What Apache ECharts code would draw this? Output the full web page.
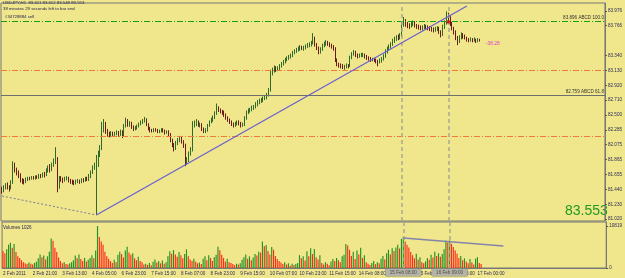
<!DOCTYPE html>
<html>
<head>
<meta charset="utf-8">
<script src="https://cdn.jsdelivr.net/npm/echarts@6/dist/echarts.min.js"></script>
<style>
html, body { margin: 0; padding: 0; background: #f0e68c; }
#chart { width: 625px; height: 278px; }
</style>
</head>
<body>
<div id="chart"></div>
<script>
// USDJPY H1 bars: [open, close, low, high]
const candles = [
  [81.45,81.43,81.38,81.48],[81.43,81.47,81.40,81.50],[81.47,81.50,81.44,81.53],[81.50,81.48,81.44,81.54],
  [81.48,81.46,81.41,81.50],[81.46,81.53,81.44,81.57],[81.53,81.80,81.52,81.84],[81.80,81.72,81.68,81.82],
  [81.72,81.68,81.64,81.75],[81.68,81.65,81.60,81.71],[81.65,81.57,81.54,81.67],[81.57,81.56,81.52,81.60],
  [81.56,81.55,81.51,81.59],[81.55,81.58,81.53,81.61],[81.58,81.60,81.56,81.62],[81.60,81.59,81.57,81.62],
  [81.59,81.61,81.58,81.63],[81.61,81.60,81.58,81.63],[81.60,81.62,81.58,81.64],[81.62,81.61,81.59,81.64],
  [81.61,81.63,81.59,81.66],[81.63,81.62,81.60,81.66],[81.62,81.66,81.61,81.68],[81.66,81.64,81.61,81.69],
  [81.64,81.71,81.63,81.74],[81.71,81.75,81.68,81.78],[81.75,81.72,81.68,81.80],[81.72,81.79,81.70,81.82],
  [81.79,81.84,81.76,81.88],[81.84,81.88,81.80,82.04],[81.88,81.47,81.40,81.90],[81.47,81.60,81.45,81.63],
  [81.60,81.58,81.55,81.63],[81.58,81.57,81.53,81.61],[81.57,81.59,81.55,81.62],[81.59,81.60,81.57,81.63],
  [81.60,81.57,81.54,81.62],[81.57,81.55,81.52,81.59],[81.55,81.54,81.51,81.58],[81.54,81.53,81.50,81.57],
  [81.53,81.55,81.51,81.58],[81.55,81.56,81.53,81.59],[81.56,81.55,81.52,81.58],[81.55,81.58,81.53,81.60],
  [81.58,81.57,81.54,81.60],[81.57,81.59,81.55,81.62],[81.59,81.58,81.56,81.62],[81.58,81.63,81.56,81.66],
  [81.63,81.68,81.60,81.71],[81.68,81.75,81.66,81.78],[81.75,81.79,81.72,81.82],[81.79,81.85,81.08,81.93],
  [81.85,81.95,81.76,81.99],[81.95,82.03,81.90,82.07],[82.03,82.34,82.00,82.40],[82.34,82.38,82.25,82.44],
  [82.38,82.27,82.23,82.40],[82.27,82.23,82.19,82.30],[82.23,82.21,82.18,82.26],[82.21,82.24,82.19,82.27],
  [82.24,82.22,82.19,82.26],[82.22,82.23,82.20,82.26],[82.23,82.25,82.21,82.28],[82.25,82.22,82.19,82.27],
  [82.22,82.26,82.20,82.29],[82.26,82.20,82.17,82.28],[82.20,82.34,82.19,82.37],[82.34,82.42,82.32,82.46],
  [82.42,82.36,82.33,82.44],[82.36,82.38,82.33,82.41],[82.38,82.33,82.30,82.40],[82.33,82.30,82.27,82.35],
  [82.30,82.31,82.28,82.34],[82.31,82.34,82.29,82.36],[82.34,82.37,82.32,82.39],[82.37,82.40,82.35,82.42],
  [82.40,82.42,82.37,82.44],[82.42,82.44,82.39,82.47],[82.44,82.36,82.34,82.45],[82.36,82.31,82.28,82.38],
  [82.31,82.28,82.25,82.33],[82.28,82.27,82.25,82.30],[82.27,82.29,82.25,82.31],[82.29,82.28,82.26,82.31],
  [82.28,82.26,82.24,82.30],[82.26,82.27,82.24,82.29],[82.27,82.29,82.25,82.31],[82.29,82.27,82.25,82.31],
  [82.27,82.25,82.22,82.29],[82.25,82.26,82.23,82.28],[82.26,82.22,82.19,82.28],[82.22,82.14,82.11,82.24],
  [82.14,82.08,82.04,82.16],[82.08,82.02,81.98,82.10],[82.02,82.10,82.00,82.13],[82.10,82.14,82.07,82.17],
  [82.14,82.18,82.11,82.20],[82.18,82.12,82.09,82.20],[82.12,82.07,82.03,82.14],[82.07,81.82,81.77,82.09],
  [81.82,81.86,81.79,81.90],[81.86,81.95,81.83,81.98],[81.95,82.00,81.92,82.04],[82.00,82.36,81.98,82.41],
  [82.36,82.38,82.32,82.42],[82.38,82.40,82.34,82.44],[82.40,82.36,82.33,82.42],[82.36,82.36,82.32,82.39],
  [82.36,82.30,82.27,82.38],[82.30,82.27,82.24,82.32],[82.27,82.28,82.24,82.31],[82.28,82.35,82.26,82.37],
  [82.35,82.40,82.33,82.42],[82.40,82.43,82.38,82.46],[82.43,82.46,82.40,82.49],[82.46,82.52,82.44,82.55],
  [82.52,82.60,82.50,82.66],[82.60,82.57,82.54,82.62],[82.57,82.55,82.52,82.59],[82.55,82.54,82.50,82.57],
  [82.54,82.50,82.47,82.56],[82.50,82.46,82.43,82.52],[82.46,82.43,82.40,82.48],[82.43,82.40,82.37,82.45],
  [82.40,82.37,82.34,82.42],[82.37,82.35,82.32,82.39],[82.35,82.37,82.33,82.40],[82.37,82.40,82.35,82.42],
  [82.40,82.38,82.35,82.42],[82.38,82.35,82.32,82.40],[82.35,82.36,82.33,82.39],[82.36,82.45,82.34,82.48],
  [82.45,82.54,82.43,82.56],[82.54,82.56,82.51,82.59],[82.56,82.57,82.53,82.60],[82.57,82.60,82.55,82.63],
  [82.60,82.61,82.57,82.64],[82.61,82.65,82.59,82.68],[82.65,82.68,82.62,82.71],[82.68,82.70,82.65,82.73],
  [82.70,82.71,82.67,82.74],[82.71,82.73,82.68,82.76],[82.73,82.75,82.71,82.78],[82.75,82.78,82.72,82.81],
  [82.78,82.85,82.76,82.88],[82.85,83.10,82.83,83.14],[83.10,83.13,83.06,83.17],[83.13,83.17,83.10,83.20],
  [83.17,83.14,83.11,83.19],[83.14,83.16,83.12,83.19],[83.16,83.19,83.13,83.22],[83.19,83.22,83.17,83.25],
  [83.22,83.25,83.20,83.28],[83.25,83.28,83.23,83.31],[83.28,83.30,83.26,83.33],[83.30,83.32,83.28,83.35],
  [83.32,83.34,83.30,83.37],[83.34,83.38,83.32,83.41],[83.38,83.40,83.36,83.43],[83.40,83.42,83.38,83.45],
  [83.42,83.44,83.40,83.47],[83.44,83.46,83.41,83.49],[83.46,83.45,83.42,83.48],[83.45,83.45,83.41,83.48],
  [83.45,83.47,83.43,83.50],[83.47,83.49,83.45,83.52],[83.49,83.50,83.46,83.53],[83.50,83.52,83.47,83.55],
  [83.52,83.59,83.50,83.66],[83.59,83.50,83.47,83.61],[83.50,83.45,83.42,83.52],[83.45,83.39,83.36,83.47],
  [83.39,83.43,83.37,83.46],[83.43,83.48,83.41,83.51],[83.48,83.51,83.46,83.54],[83.51,83.53,83.48,83.56],
  [83.53,83.51,83.48,83.55],[83.51,83.49,83.46,83.53],[83.49,83.47,83.44,83.51],[83.47,83.45,83.41,83.49],
  [83.45,83.28,83.25,83.46],[83.28,83.22,83.19,83.30],[83.22,83.20,83.17,83.24],[83.20,83.19,83.16,83.23],
  [83.19,83.18,83.15,83.22],[83.18,83.18,83.14,83.21],[83.18,83.20,83.16,83.23],[83.20,83.19,83.16,83.22],
  [83.19,83.31,83.18,83.34],[83.31,83.36,83.29,83.39],[83.36,83.39,83.34,83.42],[83.39,83.35,83.32,83.41],
  [83.35,83.33,83.30,83.37],[83.33,83.34,83.31,83.37],[83.34,83.35,83.32,83.38],[83.35,83.35,83.32,83.38],
  [83.35,83.33,83.30,83.37],[83.33,83.31,83.28,83.35],[83.31,83.30,83.27,83.33],[83.30,83.28,83.25,83.32],
  [83.28,83.29,83.26,83.31],[83.29,83.28,83.25,83.31],[83.28,83.26,83.23,83.30],[83.26,83.25,83.19,83.28],
  [83.25,83.27,83.23,83.30],[83.27,83.29,83.24,83.32],[83.29,83.33,83.27,83.36],[83.33,83.40,83.31,83.43],
  [83.40,83.44,83.37,83.47],[83.44,83.47,83.41,83.50],[83.47,83.50,83.44,83.53],[83.50,83.55,83.48,83.58],
  [83.55,83.58,83.52,83.61],[83.58,83.60,83.55,83.63],[83.60,83.59,83.56,83.64],[83.59,83.63,83.57,83.66],
  [83.63,83.78,83.61,83.82],[83.78,83.84,83.75,83.89],[83.84,83.79,83.75,83.86],[83.79,83.77,83.73,83.82],
  [83.77,83.76,83.72,83.80],[83.76,83.79,83.74,83.82],[83.79,83.81,83.76,83.84],[83.81,83.77,83.74,83.83],
  [83.77,83.75,83.72,83.79],[83.75,83.74,83.71,83.78],[83.74,83.73,83.70,83.77],[83.73,83.74,83.70,83.77],
  [83.74,83.76,83.72,83.79],[83.76,83.74,83.71,83.78],[83.74,83.73,83.70,83.77],[83.73,83.72,83.69,83.76],
  [83.72,83.71,83.68,83.75],[83.71,83.70,83.67,83.74],[83.70,83.72,83.68,83.75],[83.72,83.73,83.69,83.76],
  [83.73,83.68,83.65,83.75],[83.68,83.63,83.60,83.70],[83.63,83.75,83.62,83.78],[83.75,83.80,83.72,83.84],
  [83.80,83.92,83.78,83.97],[83.92,83.86,83.82,83.95],[83.86,83.80,83.76,83.90],[83.80,83.73,83.70,83.82],
  [83.73,83.68,83.64,83.75],[83.68,83.60,83.56,83.70],[83.60,83.54,83.49,83.62],[83.54,83.60,83.52,83.63],
  [83.60,83.64,83.57,83.67],[83.64,83.61,83.58,83.66],[83.61,83.60,83.57,83.64],[83.60,83.57,83.54,83.61],
  [83.57,83.56,83.53,83.59],[83.56,83.57,83.54,83.60],[83.57,83.56,83.53,83.59],[83.56,83.57,83.54,83.60],
  [83.57,83.55,83.52,83.58],[83.55,83.56,83.53,83.59],[83.56,83.553,83.54,83.58]
];

const volumes = [
  4400,3800,4800, 6000,6500,5200,6200,4100, 3000,2600,2000,
  1500,1200,1000,1400,1100,900,1300,1600, 2500,3500,2800,3200,2200,
  3000,4200,7600,7000,5200,4100,2700,1800, 1200, 1500,1000,900,1200,1500,
  2000,3200,2500,3500,2300,1800,2600,1700, 2100,2600,3300,2500,
  4500,10819,8000, 6800,6000,4200, 3000,2400,1800,1300,2100,1500,
  3400,4200,3600,2700,4500, 5500,4000,3400, 3800,2500,2000,2900,1800,
  1500,900,1100,800,1300,700, 1600,2200,1400,1800,1200,1900,1100,1500,
  3000,4300,3700,4600,3500,2900,4100,3300, 2500,3600,4800,3000,2200,
  1800,2400,1600,1200,1400,1000, 2400,3000,2000,3300,2600,1800,2800,3400,
  5500,4600, 3400,2600,1700,2400,1500,1300, 1000,700,1100,900,1200,
  2100,2800,3500,2400,3000,2000, 2700,3600,3200,4200,3900, 6800,5600,
  5900,4400,3500,5400,4700,3100, 2300,1800,1400,1000,1500,
  900,1200,600,1100,800,1000, 1300,3300,2500,3000,1900,
  4300,3000,5100,3600,4900,2800,2200,3300, 1300,900,1500,1100,700,
  1700,2300,1800,2600,2000,1500, 3000,3400, 6200,5800,4700,
  3100,4200,2300, 4500,3500,5200, 2600,3300,1500, 1100,800,
  1300,1800,1000,1500,1200, 2400,3100,2200, 3800,4700,3500,5100,4400,
  5300,6000,5000, 7500,8000, 6800,6000,5300, 4100,3300,2500,3700,2200,2800,
  1500,1200,1700, 2600,2100, 3400,2700,4200,3100,3800,2900, 3600,4800,
  7000,6600,7100, 6200,5400,4500, 3700,2600, 3100,2000,2500,
  1700,1200,2300, 1400,900, 2400,2800, 1300,1026
];

const timeLabels = ['2 Feb 2011', '2 Feb 21:00', '3 Feb 13:00', '4 Feb 05:00', '6 Feb 23:00',
  '7 Feb 15:00', '8 Feb 07:00', '8 Feb 23:00', '9 Feb 15:00', '10 Feb 07:00', '10 Feb 23:00',
  '11 Feb 15:00', '14 Feb 08:00', '15 Feb 00:00', '15 Feb 16:00', '16 Feb 08:00', '17 Feb 00:00'];
const priceTicks = [81.020, 81.230, 81.440, 81.655, 81.865, 82.075, 82.285, 82.500,
  82.710, 82.920, 83.130, 83.340, 83.766, 83.976];
const volumeTicks = [0, 10819];

const slotCount = 326;
const lastPrice = 83.553;

const categories = [];
for (let i = 0; i < slotCount; i++) {
  categories.push(i % 16 === 0 && i / 16 < timeLabels.length ? timeLabels[i / 16] : '');
}

const chart = echarts.init(document.getElementById('chart'));
const small = 4.6;
const txt = '#2a2a58';
const vDash = { color: '#a8a892', type: [4, 3], width: 1.5 };

const option = {
  animation: false,
  backgroundColor: '#f0e68c',
  textStyle: { fontFamily: 'Liberation Sans' },
  grid: [
    { left: 1, right: 18, top: 3, bottom: 57, show: true, borderColor: '#787878', borderWidth: 1 },
    { left: 1, right: 18, top: 222, bottom: 10, show: true, borderColor: '#787878', borderWidth: 1 }
  ],
  xAxis: [
    { type: 'category', gridIndex: 0, data: categories, axisLine: { show: false },
      axisTick: { show: false }, axisLabel: { show: false }, splitLine: { show: false } },
    { type: 'category', gridIndex: 1, data: categories,
      axisLine: { lineStyle: { color: '#787878' } },
      axisTick: { interval: (i, v) => v !== '', length: 2, lineStyle: { color: '#555' } },
      axisLabel: { interval: (i, v) => v !== '', align: 'left', fontSize: small, color: txt, margin: 3 },
      splitLine: { show: false } }
  ],
  yAxis: [
    { type: 'value', gridIndex: 0, position: 'right', min: 80.992, max: 84.088, splitLine: { show: false },
      axisLine: { show: true, lineStyle: { color: '#787878' } },
      axisTick: { show: true, length: 2, customValues: priceTicks, lineStyle: { color: '#555' } },
      axisLabel: { customValues: priceTicks, formatter: v => v.toFixed(3), fontSize: small, color: txt, margin: 3 } },
    { type: 'value', gridIndex: 1, position: 'right', min: 0, max: 11850, splitLine: { show: false },
      axisLine: { show: true, lineStyle: { color: '#787878' } },
      axisTick: { show: true, length: 2, customValues: volumeTicks, lineStyle: { color: '#555' } },
      axisLabel: { customValues: volumeTicks, formatter: v => String(v), fontSize: small, color: txt, margin: 3 } }
  ],
  series: [
    {
      type: 'candlestick', xAxisIndex: 0, yAxisIndex: 0, data: candles, barWidth: '70%',
      itemStyle: { color: '#2b8c2b', color0: '#7c1c28', borderColor: '#2d6b2d', borderColor0: '#6a1a1a', borderWidth: 1 },
      markLine: {
        silent: true, symbol: ['none', 'none'],
        data: [
          { yAxis: 83.83, lineStyle: { color: '#14a014', type: [6, 2, 1, 2], width: 1.2, opacity: 1 },
            label: { show: true, position: 'insideEndTop', formatter: '83.896 ABCD 100.0', fontSize: small, color: '#333', distance: 1 } },
          { yAxis: 83.136, lineStyle: { color: '#f07a3a', type: [6, 2, 1, 2], width: 1 }, label: { show: false } },
          { yAxis: 82.185, lineStyle: { color: '#f07a3a', type: [6, 2, 1, 2], width: 1 }, label: { show: false } },
          { yAxis: 82.781, lineStyle: { color: '#6e6e6e', type: 'solid', width: 1 },
            label: { show: true, position: 'insideEndTop', formatter: '82.759 ABCD 61.8', fontSize: small, color: '#333', distance: 1 } },
          { yAxis: lastPrice, lineStyle: { opacity: 0 },
            label: { show: true, position: 'end', formatter: '83.553', fontSize: small, color: '#fff',
              backgroundColor: '#1c1ca0', padding: [1, 2], distance: 1 } },
          { xAxis: 216, lineStyle: vDash, label: { show: false } },
          { xAxis: 241, lineStyle: vDash, label: { show: false } },
          [ { coord: [51, 81.077], lineStyle: { color: '#6a5fd0', width: 1.2, type: 'solid' }, label: { show: false } },
            { coord: [251, 84.045] } ],
          [ { coord: [0, 81.347], lineStyle: { color: '#7a7a9a', width: 1, type: [2, 2] }, label: { show: false } },
            { coord: [51, 81.077] } ]
        ]
      },
      markPoint: {
        silent: true,
        data: [ { coord: [241, 83.818], symbol: 'rect', symbolSize: [3, 3], itemStyle: { color: '#e01010' }, label: { show: false } } ]
      }
    },
    {
      type: 'bar', xAxisIndex: 1, yAxisIndex: 1, data: volumes, barWidth: '62%',
      itemStyle: { color: p => (p.dataIndex > 0 && volumes[p.dataIndex] > volumes[p.dataIndex - 1]) ? '#1f9426' : '#ff2a1a' },
      markLine: {
        silent: true, symbol: ['none', 'none'],
        data: [
          { xAxis: 216, lineStyle: vDash,
            label: { show: true, position: 'start', formatter: '15 Feb 08:00', fontSize: small, color: '#4a4a4a',
              backgroundColor: '#b4b4a6', borderColor: '#8c8c80', borderWidth: 0.5, padding: [1, 4], distance: 1 } },
          { xAxis: 241, lineStyle: vDash,
            label: { show: true, position: 'start', formatter: '16 Feb 09:00', fontSize: small, color: '#4a4a4a',
              backgroundColor: '#b4b4a6', borderColor: '#8c8c80', borderWidth: 0.5, padding: [1, 4], distance: 1 } },
          [ { coord: [216, 7728], lineStyle: { color: '#8484aa', width: 1.5, type: 'solid' }, label: { show: false } },
            { coord: [270, 5667] } ]
        ]
      }
    }
  ],
  graphic: [
    { type: 'text', left: 3, top: 1, style: { text: 'USDJPY,H1  83.611 83.612 83.548 83.553', fontSize: 4.3, fill: '#1d1d50', fontFamily: 'Liberation Sans' } },
    { type: 'text', left: 3, top: 7, style: { text: '38 minutes 29 seconds left to bar end', fontSize: 4.3, fill: '#1d1d50', fontFamily: 'Liberation Sans' } },
    { type: 'text', left: 5, top: 15, style: { text: '#34728884 sell', fontSize: 4.3, fill: '#1d1d50', fontFamily: 'Liberation Sans' } },
    { type: 'text', left: 3, top: 225, style: { text: 'Volumes 1026', fontSize: 4.5, fill: '#1d1d50', fontFamily: 'Liberation Sans' } },
    { type: 'text', left: 486, top: 41, style: { text: '-38.28', fontSize: 4.8, fill: '#e040c8', fontFamily: 'Liberation Sans' } },
    { type: 'text', left: 565, top: 204, style: { text: '83.553', fontSize: 14, fill: '#1e9a1e', fontFamily: 'Liberation Sans' } }
  ]
};

chart.setOption(option);
</script>
</body>
</html>
